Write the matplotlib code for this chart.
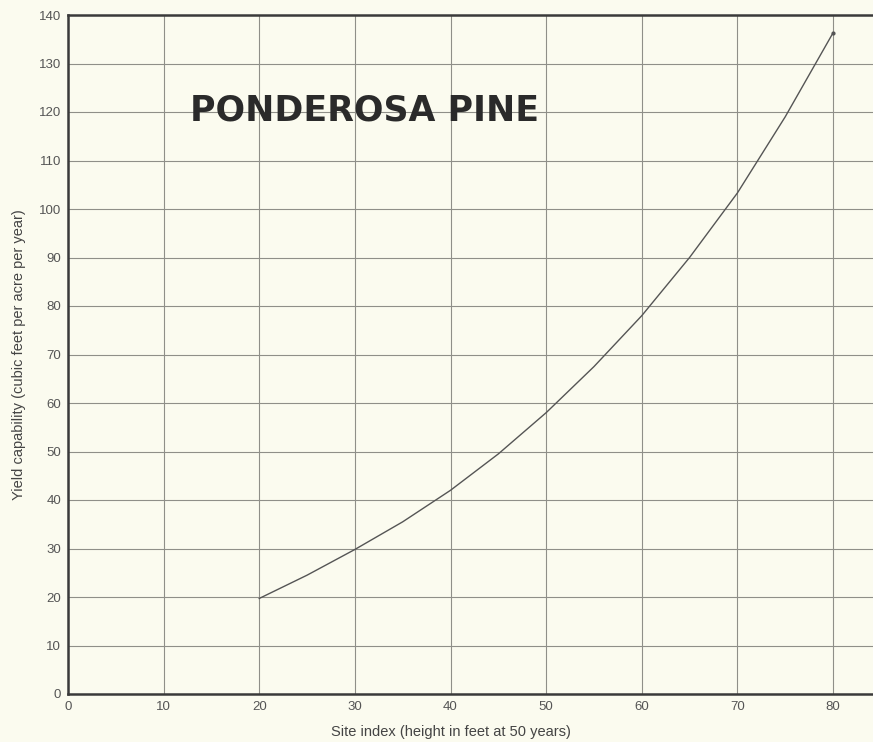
import numpy as np
import matplotlib
matplotlib.use("Agg")
import matplotlib.pyplot as plt

# values
site_index = [20, 25, 30, 35, 40, 45, 50, 55, 60, 65, 70, 75, 80]
yield_cap = [19.7, 24.5, 29.8, 35.5, 42.0, 49.5, 58.0, 67.5, 78.0, 90.0, 103.3, 119.0, 136.3]

x_ticks = [0, 10, 20, 30, 40, 50, 60, 70, 80]
y_ticks = [0, 10, 20, 30, 40, 50, 60, 70, 80, 90, 100, 110, 120, 130, 140]

bg = '#fbfbef'
plt.rcParams['font.family'] = ['Liberation Sans', 'DejaVu Sans']

fig = plt.figure(figsize=(8.73, 7.42), dpi=100, facecolor=bg)
ax = fig.add_axes([68/873, 48/742, 805/873, 679/742])
ax.set_facecolor(bg)

ax.plot(site_index, yield_cap, color='#555555', lw=1.0)
ax.plot(site_index[-1], yield_cap[-1], marker='.', color='#555555', ms=4)

ax.set_xlim(0, 805/9.5625)
ax.set_ylim(0, 140)
ax.set_xticks(x_ticks)
ax.set_yticks(y_ticks)
ax.grid(True, color='#8f8f88', lw=0.8)
ax.set_axisbelow(True)

for s in ['left', 'bottom', 'top']:
    ax.spines[s].set_color('#3a3a3a')
    ax.spines[s].set_linewidth(1.8)
ax.spines['right'].set_visible(False)

ax.tick_params(length=0, pad=5, labelsize=9.5, labelcolor='#555555')

ax.text(12.8, 120.3, 'PONDEROSA PINE', fontsize=25, fontweight='bold',
        family='DejaVu Sans', color='#2a2a2a', va='center', ha='left')

ax.set_xlabel('Site index (height in feet at 50 years)', fontsize=10.5,
              color='#444444', x=(451-68)/805, labelpad=9)
ax.set_ylabel('Yield capability (cubic feet per acre per year)', fontsize=10.5,
              color='#444444', labelpad=9)

fig.savefig('out.png', dpi=100, facecolor=bg)
